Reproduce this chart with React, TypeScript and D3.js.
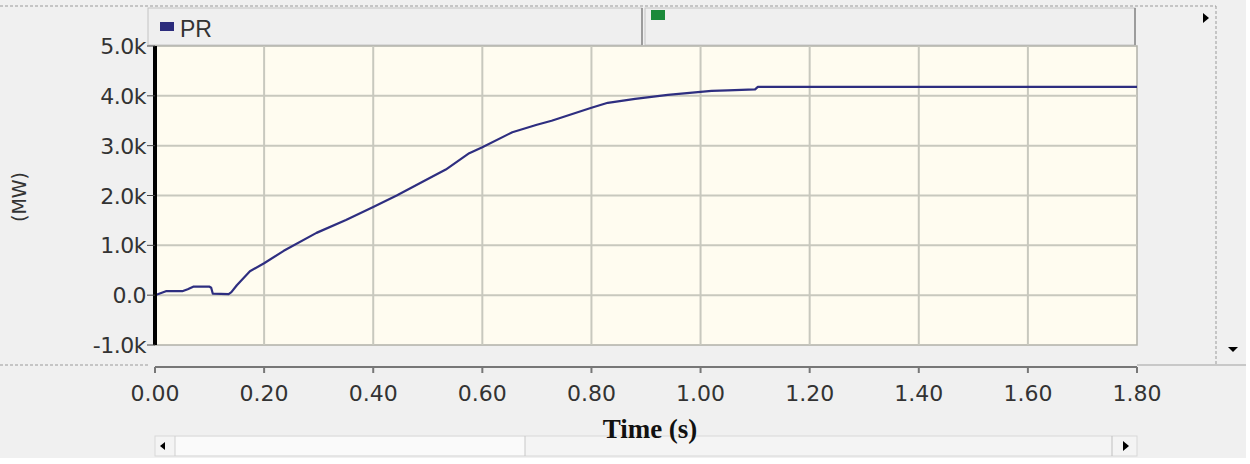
import * as d3 from 'd3'

// PR power (MW) against time (s)
const times = [0, 0.01, 0.02, 0.05, 0.06, 0.07, 0.1, 0.103, 0.106, 0.135, 0.14, 0.15, 0.174, 0.2, 0.236, 0.296, 0.35, 0.4, 0.443, 0.5, 0.533, 0.576, 0.6, 0.655, 0.7, 0.727, 0.8, 0.83, 0.88, 0.94, 1.0, 1.02, 1.05, 1.1, 1.105, 1.8]
const power = [0, 40, 80, 80, 120, 170, 170, 150, 30, 20, 60, 200, 480, 640, 890, 1250, 1510, 1770, 2000, 2330, 2520, 2850, 2970, 3270, 3420, 3500, 3760, 3860, 3940, 4020, 4080, 4100, 4110, 4130, 4180, 4180]

const xTicks = [0, 0.2, 0.4, 0.6, 0.8, 1.0, 1.2, 1.4, 1.6, 1.8]
const yTicks = [-1000, 0, 1000, 2000, 3000, 4000, 5000]
const yTickLabels = ['-1.0k', '0.0', '1.0k', '2.0k', '3.0k', '4.0k', '5.0k']

const W = 1250
const H = 464
const left = 155
const right = 1137
const top = 46
const bottom = 345

export default function App() {
  const x = d3.scaleLinear().domain([0, 1.8]).range([left, right])
  const y = d3.scaleLinear().domain([-1000, 5000]).range([bottom, top])
  const line = d3
    .line<number>()
    .x((_, i) => x(times[i]))
    .y((d) => y(d))

  const sans = '"DejaVu Sans", Verdana, sans-serif'

  return (
    <svg width={W} height={H} style={{ position: 'absolute', left: 0, top: 0 }}>
      <rect x={0} y={0} width={W} height={H} fill="#f0f0f0" />
      <rect x={1246} y={0} width={4} height={H} fill="#ffffff" />
      <rect x={0} y={458} width={W} height={6} fill="#ffffff" />

      {/* frame lines */}
      <line x1={0} x2={1216} y1={6} y2={6} stroke="#9a9a9a" strokeDasharray="3,2" />
      <line x1={1216} x2={1216} y1={6} y2={365} stroke="#9a9a9a" strokeDasharray="3,2" />
      <line x1={0} x2={150} y1={365} y2={365} stroke="#9a9a9a" strokeDasharray="3,2" />
      <line x1={1137} x2={1246} y1={365} y2={365} stroke="#a0a0a0" />

      {/* legend panels */}
      <rect x={148} y={8} width={494} height={37} fill="#efefef" stroke="#c4c4c4" />
      <line x1={642} x2={642} y1={8} y2={45} stroke="#9c9c9c" strokeWidth={2} />
      <rect x={645} y={8} width={490} height={37} fill="#efefef" stroke="#c4c4c4" />
      <line x1={1135} x2={1135} y1={8} y2={45} stroke="#9c9c9c" strokeWidth={2} />
      <rect x={160} y={22} width={14} height={9} fill="#2c2c7c" />
      <text x={180} y={37} fontFamily='"Liberation Sans", Arial, sans-serif' fontSize={23} fill="#333">PR</text>
      <rect x={651} y={10} width={14} height={10} fill="#1b8a3a" />
      <path d="M1203,13 L1209,18 L1203,23 Z" fill="#000" />
      <path d="M1228,347 L1238,347 L1233,352 Z" fill="#000" />

      {/* plot area */}
      <rect x={left} y={top} width={right - left} height={bottom - top} fill="#fffcf0" stroke="#b0b0a8" strokeWidth={1.5} />
      {xTicks.slice(1, -1).map((t) => (
        <line key={'gx' + t} x1={x(t)} x2={x(t)} y1={top} y2={bottom} stroke="#c8c8be" strokeWidth={2} />
      ))}
      {yTicks.slice(1, -1).map((v) => (
        <line key={'gy' + v} x1={left} x2={right} y1={y(v)} y2={y(v)} stroke="#c8c8be" strokeWidth={2} />
      ))}

      <path
        d={line(power) ?? ''}
        fill="none"
        stroke="#2e2e80"
        strokeWidth={2.2}
        strokeLinejoin="round"
      />

      {/* y axis */}
      <line x1={155} x2={155} y1={y(5000)} y2={y(-1000)} stroke="#000" strokeWidth={4} />
      {yTicks.map((v, i) => (
        <g key={'yt' + v}>
          <line x1={147} x2={155} y1={y(v)} y2={y(v)} stroke="#444" strokeWidth={1} />
          <text
            x={146}
            y={y(v) + 8}
            textAnchor="end"
            fontFamily={sans}
            fontSize={22}
            letterSpacing={-0.5}
            fill="#333"
          >
            {yTickLabels[i]}
          </text>
        </g>
      ))}
      <text
        transform="translate(26,197) rotate(-90)"
        textAnchor="middle"
        fontFamily={sans}
        fontSize={19}
        fill="#333"
      >
        (MW)
      </text>

      {/* x axis */}
      <line x1={left} x2={right} y1={367} y2={367} stroke="#777" strokeWidth={2} />
      {xTicks.map((t) => (
        <g key={'xt' + t}>
          <line x1={x(t)} x2={x(t)} y1={367} y2={373} stroke="#777" strokeWidth={2} />
          <text x={x(t)} y={401} textAnchor="middle" fontFamily={sans} fontSize={22} fill="#333">
            {d3.format('.2f')(t)}
          </text>
        </g>
      ))}

      {/* scrollbar */}
      <rect x={155} y={436} width={982} height={20} fill="#f4f4f4" stroke="#d8d8d8" />
      <rect x={175} y={437} width={350} height={18} fill="#fafafa" />
      <line x1={525} x2={525} y1={436} y2={456} stroke="#c8c8c8" />
      <line x1={175} x2={175} y1={436} y2={456} stroke="#d0d0d0" />
      <line x1={1112} x2={1112} y1={436} y2={456} stroke="#c0c0c0" />
      <path d="M160,446 L165,442 L165,450 Z" fill="#000" />
      <path d="M1123,441 L1129,446 L1123,451 Z" fill="#000" />

      <text
        x={650}
        y={438}
        textAnchor="middle"
        fontFamily='"Liberation Serif", "DejaVu Serif", serif'
        fontWeight="bold"
        fontSize={27}
        fill="#111"
      >
        Time (s)
      </text>
    </svg>
  )
}
